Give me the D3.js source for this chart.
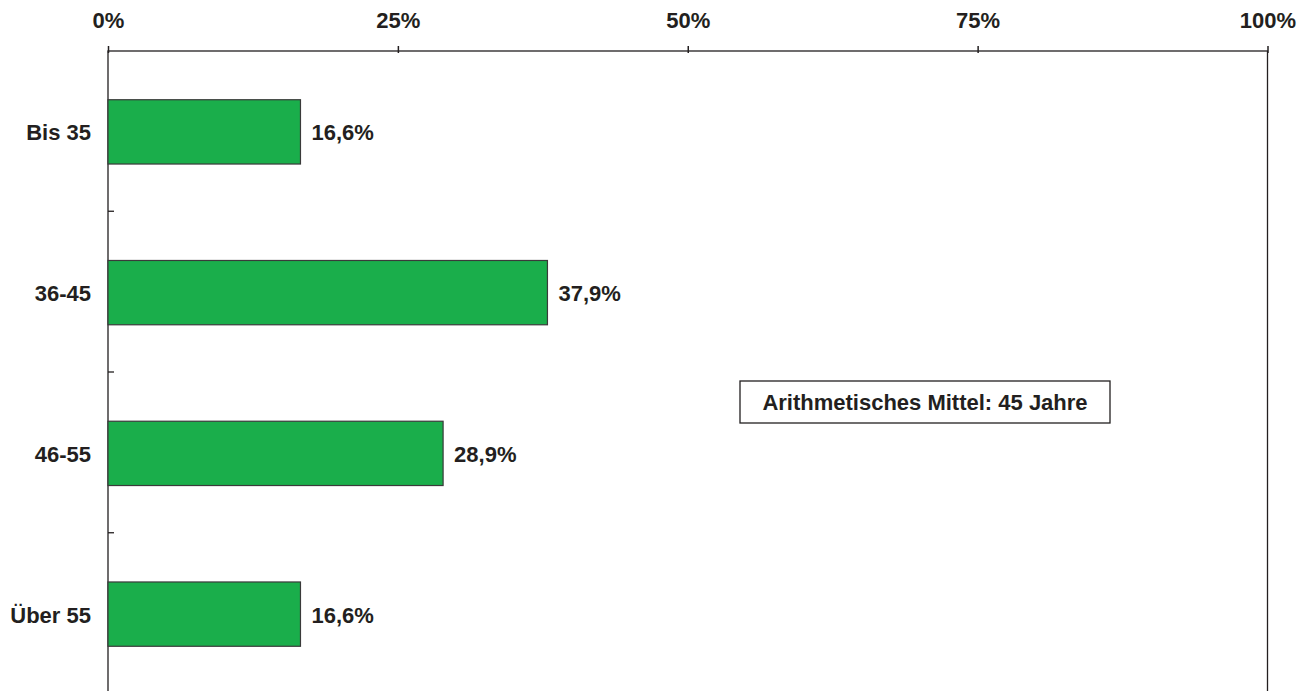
<!DOCTYPE html>
<html>
<head>
<meta charset="utf-8">
<script src="https://cdn.jsdelivr.net/npm/d3@7"></script>
<style>
  html, body { margin: 0; padding: 0; background: #ffffff; }
  svg { display: block; }
  text { font-family: "Liberation Sans", Arial, sans-serif; font-weight: bold; fill: #231f20; }
</style>
</head>
<body>
<svg id="chart" width="1311" height="691"></svg>
<script>
// Age groups and their shares (percent)
const categories = ["Bis 35", "36-45", "46-55", "Über 55"];
const shares = [16.6, 37.9, 28.9, 16.6];
const tickValues = [0, 25, 50, 75, 100];
const tickLabels = ["0%", "25%", "50%", "75%", "100%"];
const meanNote = "Arithmetisches Mittel: 45 Jahre";

(function drawChart() {
  const svg = d3.select("#chart");
  const ink = "#231f20";
  const fontSize = 22;

  const plotLeft = 108, plotRight = 1267.5, plotTop = 51, plotBottom = 694.5;

  const x = d3.scaleLinear().domain([0, 100]).range([plotLeft, plotRight]);
  const y = d3.scaleBand().domain(categories).range([plotTop + 0.5, plotBottom]).padding(0);
  const barH = y.step() * 0.4;

  // Plot frame: top axis line, left axis, right border
  svg.append("rect")
    .attr("x", plotLeft).attr("y", plotTop)
    .attr("width", plotRight - plotLeft).attr("height", plotBottom - plotTop + 10)
    .attr("fill", "none").attr("stroke", ink).attr("stroke-width", 1.3);

  // Top value axis
  const xAxis = d3.axisTop(x)
    .tickValues(tickValues)
    .tickFormat((d, i) => tickLabels[i])
    .tickSize(5)
    .tickPadding(18);
  const gx = svg.append("g").attr("transform", `translate(0,${plotTop})`).call(xAxis);
  gx.select(".domain").remove();
  gx.selectAll(".tick line").attr("stroke", ink).attr("stroke-width", 1.5).attr("y2", -5).attr("y1", 2);
  gx.selectAll(".tick text")
    .attr("font-size", fontSize)
    .attr("font-family", "'Liberation Sans', Arial, sans-serif")
    .attr("font-weight", "bold")
    .attr("fill", ink)
    .attr("dy", 0);

  // Category tick marks between bands, pointing into the plot
  const boundaries = categories.slice(1).map(c => y(c));
  svg.append("g").selectAll("line").data(boundaries).join("line")
    .attr("x1", plotLeft).attr("x2", plotLeft + 6)
    .attr("y1", d => d - 1).attr("y2", d => d - 1)
    .attr("stroke", ink).attr("stroke-width", 1.3);

  // Category labels
  svg.append("g").selectAll("text").data(categories).join("text")
    .attr("x", plotLeft - 17)
    .attr("y", d => y(d) + y.step() / 2 + 1)
    .attr("text-anchor", "end")
    .attr("dominant-baseline", "central")
    .attr("font-size", fontSize)
    .text(d => d);

  // Bars
  svg.append("g").selectAll("rect").data(categories).join("rect")
    .attr("x", x(0))
    .attr("y", d => y(d) + (y.step() - barH) / 2)
    .attr("width", (d, i) => x(shares[i]) - x(0))
    .attr("height", barH)
    .attr("fill", "#1aae4b")
    .attr("stroke", "#3a3a3a")
    .attr("stroke-width", 1.2);

  // Value labels
  svg.append("g").selectAll("text").data(categories).join("text")
    .attr("x", (d, i) => x(shares[i]) + 11)
    .attr("y", (d, i) => y(d) + y.step() / 2 + 1)
    .attr("dominant-baseline", "central")
    .attr("font-size", fontSize)
    .text((d, i) => shares[i].toFixed(1).replace(".", ",") + "%");

  // Mean annotation box
  const note = svg.append("g");
  note.append("rect")
    .attr("x", 740).attr("y", 381)
    .attr("width", 370).attr("height", 42)
    .attr("fill", "#ffffff").attr("stroke", ink).attr("stroke-width", 1.3);
  note.append("text")
    .attr("x", 925).attr("y", 402.5)
    .attr("text-anchor", "middle")
    .attr("dominant-baseline", "central")
    .attr("font-size", fontSize)
    .text(meanNote);
})();
</script>
</body>
</html>
